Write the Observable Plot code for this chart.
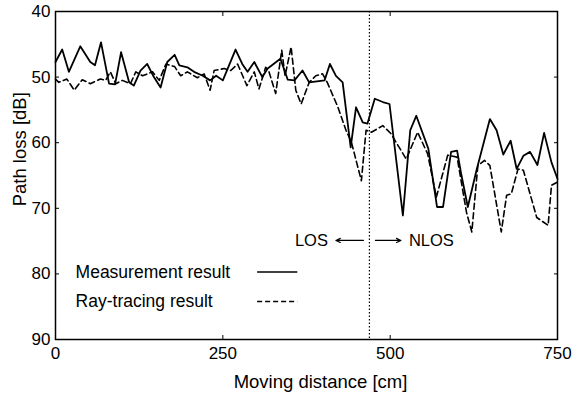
<!DOCTYPE html>
<html>
<head>
<meta charset="utf-8">
<script src="https://cdn.jsdelivr.net/npm/d3@7"></script>
<script src="https://cdn.jsdelivr.net/npm/@observablehq/plot@0.6"></script>
<style>
  body { margin: 0; background: #fff; }
  svg { font-family: "Liberation Sans", Arial, Helvetica, sans-serif; }
</style>
</head>
<body>
<div id="chart"></div>
<script>
// Measurement result (solid)
const measDist = [0,10,20,37,52,59,68,80,89,98,110,117,127,137,147,157,167,178,185,197,207,220,231,240,250,269,279,287,297,309,317,336,347,357,369,379,402,410,419,429,441,449,459,466,477,489,499,519,530,539,557,570,579,591,600,606,616,629,649,659,669,680,689,699,709,720,730,741,750];
const measLoss = [47.7,45.8,49.2,45.3,47.7,48.2,44.7,51.0,51.1,46.2,50.8,51.3,49.0,48.0,50.0,51.6,47.7,46.6,48.2,48.5,49.2,49.8,50.5,49.8,50.5,45.8,48.0,49.2,47.7,50.0,48.7,47.2,50.4,50.5,49.0,50.8,50.5,48.0,49.8,50.8,60.7,54.6,56.9,57.1,53.3,53.8,54.1,71.1,58.1,55.9,60.9,69.8,69.8,61.4,61.2,64.7,69.8,64.2,56.4,58.1,61.8,59.7,64.0,62.0,61.4,63.4,58.5,63.0,65.5];
// Ray-tracing result (dashed)
const rayDist = [0,5,17,28,40,52,67,75,82,90,100,112,120,130,145,155,165,178,187,197,212,222,231,237,252,262,272,286,297,304,314,319,329,338,343,352,359,367,379,389,399,406,422,434,442,457,464,472,489,501,524,541,556,569,586,600,614,622,631,641,649,666,674,681,691,699,719,736,741,750];
const rayLoss = [50.3,50.8,50.3,52.0,50.4,51.0,50.3,50.5,49.2,51.0,50.5,51.0,49.2,49.8,49.2,50.5,48.0,48.4,49.8,49.2,50.1,49.5,52.0,49.0,48.7,49.0,48.0,51.3,49.2,51.8,48.5,49.2,52.5,45.9,49.8,45.4,52.0,54.1,50.8,49.8,49.5,50.8,54.6,58.1,59.9,65.8,58.1,58.4,57.4,58.6,62.5,58.4,61.7,68.3,61.9,62.2,70.6,73.6,63.5,62.7,63.5,73.6,68.0,67.8,64.0,64.2,71.4,72.6,66.5,66.0];

const xTicks = [0, 250, 500, 750];
const yTicks = [40, 50, 60, 70, 80, 90];
const boundary = [469];
const xLabel = ["Moving distance [cm]"];
const yLabel = ["Path loss [dB]"];
const yLabelAt = 61;

// Annotations (data coordinates)
const legendLabels = ["Measurement result", "Ray-tracing result"];
const legendRows = [79.7, 84.2];
const legendTextX = 30;
const legendLineX = [302, 362];
const losLabel = {text: "LOS", x: 407, y: 74.9};
const nlosLabel = {text: "NLOS", x: 528, y: 74.9};
const losArrow = {x1: 460, x2: 419, y: 74.9};
const nlosArrow = {x1: 478, x2: 516, y: 74.9};

const meas = measDist.map((d, i) => ({d, v: measLoss[i]}));
const ray = rayDist.map((d, i) => ({d, v: rayLoss[i]}));

const ink = "#000";
const chart = Plot.plot({
  width: 572,
  height: 399,
  marginLeft: 55,
  marginRight: 15,
  marginTop: 11,
  marginBottom: 60,
  style: {fontFamily: "'Liberation Sans', Arial, sans-serif", fontSize: "17px", color: ink, background: "#fff"},
  x: {domain: [0, 750]},
  y: {domain: [40, 90], reverse: true},
  marks: [
    Plot.frame({stroke: ink, strokeWidth: 1.5}),
    Plot.axisX(xTicks, {anchor: "bottom", tickSize: -4, tickPadding: 11, fontSize: 17, label: null}),
    Plot.axisX(xTicks, {anchor: "top", tickSize: -4, text: null, label: null}),
    Plot.axisY(yTicks, {anchor: "left", tickSize: -4, tickPadding: 9, fontSize: 17, label: null}),
    Plot.axisY(yTicks, {anchor: "right", tickSize: -4, text: null, label: null}),
    Plot.text(xLabel, {frameAnchor: "bottom", text: d => d, dx: 14, dy: 48, fontSize: 18.5, fill: ink}),
    Plot.text(yLabel, {frameAnchor: "left", y: () => yLabelAt, text: d => d, rotate: -90, dx: -35, textAnchor: "middle", fontSize: 18.5, fill: ink}),
    Plot.ruleX(boundary, {stroke: ink, strokeWidth: 1.2, strokeDasharray: "1.5,2"}),
    Plot.line(ray, {x: "d", y: "v", stroke: ink, strokeWidth: 1.6, strokeDasharray: "6,3.5"}),
    Plot.line(meas, {x: "d", y: "v", stroke: ink, strokeWidth: 1.8}),
    Plot.text(legendLabels, {x: () => legendTextX, y: (d, i) => legendRows[i], text: d => d, textAnchor: "start", fontSize: 17.5, fill: ink}),
    Plot.ruleY([legendRows[0]], {x1: legendLineX[0], x2: legendLineX[1], stroke: ink, strokeWidth: 1.5}),
    Plot.ruleY([legendRows[1]], {x1: legendLineX[0], x2: legendLineX[1], stroke: ink, strokeWidth: 1.5, strokeDasharray: "5,3"}),
    Plot.text([losLabel], {x: "x", y: "y", text: "text", textAnchor: "end", fontSize: 16.5, fill: ink}),
    Plot.text([nlosLabel], {x: "x", y: "y", text: "text", textAnchor: "start", fontSize: 16.5, fill: ink}),
    Plot.arrow([losArrow, nlosArrow], {x1: "x1", x2: "x2", y1: "y", y2: "y", stroke: ink, strokeWidth: 1.2, headLength: 6, headAngle: 50})
  ]
});
document.getElementById("chart").appendChild(chart);
</script>
</body>
</html>
